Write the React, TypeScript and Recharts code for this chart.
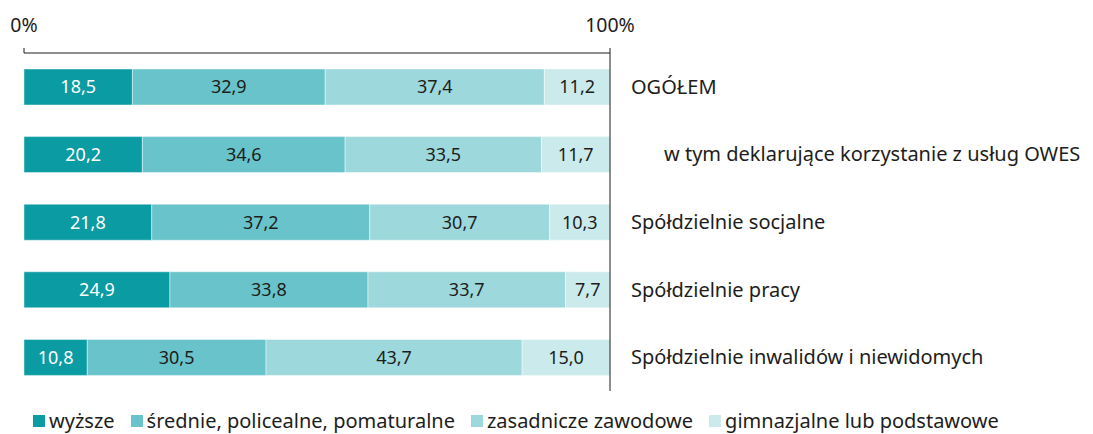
import React from 'react';
import { BarChart, Bar, XAxis, YAxis, LabelList } from 'recharts';

const categories = [
  'OGÓŁEM',
  'w tym deklarujące korzystanie z usług OWES',
  'Spółdzielnie socjalne',
  'Spółdzielnie pracy',
  'Spółdzielnie inwalidów i niewidomych',
];
const wyzsze = [18.5, 20.2, 21.8, 24.9, 10.8];
const srednie = [32.9, 34.6, 37.2, 33.8, 30.5];
const zasadnicze = [37.4, 33.5, 30.7, 33.7, 43.7];
const gimnazjalne = [11.2, 11.7, 10.3, 7.7, 15.0];
const seriesNames = [
  'wyższe',
  'średnie, policealne, pomaturalne',
  'zasadnicze zawodowe',
  'gimnazjalne lub podstawowe',
];
const xTicks = [0, 100];

const seriesKeys = ['wyzsze', 'srednie', 'zasadnicze', 'gimnazjalne'];
const colors = ['#0a9ba3', '#68c3ca', '#9dd8dc', '#cbeaec'];
const labelColors = ['#ffffff', '#1d1d1b', '#1d1d1b', '#1d1d1b'];

const data = categories.map((name, i) => ({
  name,
  wyzsze: wyzsze[i],
  srednie: srednie[i],
  zasadnicze: zasadnicze[i],
  gimnazjalne: gimnazjalne[i],
}));

const MAIN_FONT = "'Noto Sans', sans-serif";
const TEXT = '#1d1d1b';

const fmt = (v: any) => Number(v).toFixed(1).replace('.', ',');

const CategoryTick = (props: any) => {
  const { x, y, payload } = props;
  const indent = String(payload.value).startsWith('w tym') ? 33 : 0;
  return (
    <text
      x={x + indent}
      y={y}
      dy="0.35em"
      textAnchor="start"
      fill={TEXT}
      fontSize={20}
      fontFamily={MAIN_FONT}
    >
      {payload.value}
    </text>
  );
};

export default function App() {
  return (
    <div style={{ position: 'absolute', left: 0, top: 0, width: 1093, height: 434, background: '#fff', overflow: 'hidden' }}>
      <BarChart
        width={1093}
        height={434}
        data={data}
        layout="vertical"
        margin={{ top: 0, right: 0, left: 24, bottom: 43 }}
      >
        <XAxis
          type="number"
          orientation="top"
          domain={[0, 100]}
          allowDataOverflow
          ticks={xTicks}
          tickFormatter={(v: number) => `${v}%`}
          height={53}
          tickSize={5}
          tickMargin={16}
          axisLine={{ stroke: TEXT }}
          tickLine={{ stroke: TEXT }}
          tick={{ fill: TEXT, fontSize: 19.5, fontFamily: MAIN_FONT }}
        />
        <YAxis
          type="category"
          dataKey="name"
          orientation="right"
          width={483}
          tickSize={0}
          tickMargin={21}
          axisLine={{ stroke: TEXT }}
          tickLine={false}
          tick={<CategoryTick />}
          interval={0}
        />
        {seriesKeys.map((k, i) => (
          <Bar
            key={k}
            dataKey={k}
            name={seriesNames[i]}
            stackId="a"
            fill={colors[i]}
            stroke="#ffffff"
            strokeOpacity={0.45}
            strokeWidth={1}
            barSize={36}
            isAnimationActive={false}
          >
            <LabelList
              dataKey={k}
              position="center"
              formatter={fmt}
              fill={labelColors[i]}
              fontSize={18}
              fontFamily={MAIN_FONT}
            />
          </Bar>
        ))}
      </BarChart>
      <div
        style={{
          position: 'absolute',
          left: 33,
          top: 410,
          display: 'flex',
          alignItems: 'center',
          gap: 16,
          fontFamily: MAIN_FONT,
          fontSize: 20,
          lineHeight: '22px',
          color: TEXT,
          whiteSpace: 'nowrap',
        }}
      >
        {seriesNames.map((n, i) => (
          <div key={n} style={{ display: 'flex', alignItems: 'center' }}>
            <span
              style={{ display: 'inline-block', width: 12, height: 12, background: colors[i], marginRight: 4 }}
            />
            <span>{n}</span>
          </div>
        ))}
      </div>
    </div>
  );
}
